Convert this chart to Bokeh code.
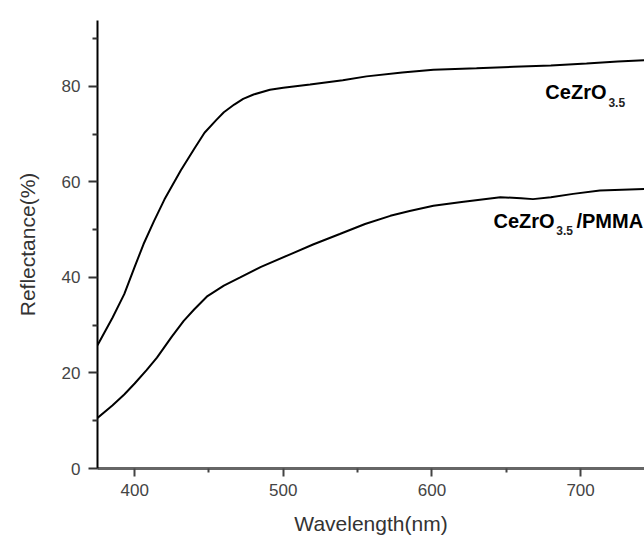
from bokeh.plotting import figure
from bokeh.models import Range1d, FixedTicker
from bokeh.core.properties import value
from bokeh.embed import file_html
from bokeh.resources import INLINE

# Data
wl_ceo = [375, 385, 393, 400, 406, 413, 420, 431, 440, 447, 455, 460, 467, 473,
          480, 491, 500, 518, 540, 556, 580, 601, 630, 655, 680, 704, 725, 743]
refl_ceo = [25.8, 31.5, 36.5, 42.2, 47.0, 51.8, 56.3, 62.4, 66.9, 70.3, 73.0, 74.6,
            76.2, 77.4, 78.3, 79.3, 79.7, 80.4, 81.3, 82.1, 82.9, 83.5, 83.8, 84.1,
            84.4, 84.8, 85.2, 85.5]

wl_pmma = [375, 385, 393, 400, 408, 415, 425, 433, 440, 449, 460, 471, 485, 505,
           520, 538, 555, 572, 585, 601, 620, 646, 660, 668, 680, 695, 713, 743]
refl_pmma = [10.6, 13.2, 15.5, 17.8, 20.6, 23.2, 27.6, 30.9, 33.3, 36.1, 38.3, 40.0,
             42.2, 44.9, 46.9, 49.1, 51.2, 52.9, 53.9, 55.0, 55.8, 56.8, 56.6, 56.4,
             56.8, 57.5, 58.2, 58.5]

x_ticks = [400, 500, 600, 700]
y_ticks = [0, 20, 40, 60, 80]
x_minor = [450, 550, 650]
y_minor = [10, 30, 50, 70, 90]

FONT = "Liberation Sans"

p = figure(width=644, height=539, output_backend="svg", toolbar_location=None,
           x_range=Range1d(375, 743), y_range=Range1d(0, 93.8),
           min_border_left=97, min_border_right=0, min_border_top=20,
           min_border_bottom=71)
p.outline_line_color = None
p.grid.visible = False
p.background_fill_color = "white"
p.border_fill_color = "white"

p.line(wl_ceo, refl_ceo, line_color="black", line_width=2)
p.line(wl_pmma, refl_pmma, line_color="black", line_width=2)

# x axis
xa = p.xaxis[0]
xa.ticker = FixedTicker(ticks=x_ticks, minor_ticks=x_minor)
xa.axis_label = "Wavelength(nm)"
xa.axis_label_text_font = FONT
xa.axis_label_text_font_size = "21px"
xa.axis_label_text_font_style = "normal"
xa.axis_label_text_color = "#333333"
xa.axis_label_standoff = 13
xa.major_label_text_font = FONT
xa.major_label_text_font_size = "17px"
xa.major_label_text_color = "#444444"
xa.major_label_standoff = 7
xa.axis_line_color = "#666666"
xa.axis_line_width = 3
xa.major_tick_line_color = "#444444"
xa.major_tick_line_width = 2
xa.major_tick_out = 8
xa.major_tick_in = 0
xa.minor_tick_line_color = "#444444"
xa.minor_tick_line_width = 2
xa.minor_tick_out = 4
xa.minor_tick_in = 0

# y axis
ya = p.yaxis[0]
ya.ticker = FixedTicker(ticks=y_ticks, minor_ticks=y_minor)
ya.axis_label = "Reflectance(%)"
ya.axis_label_text_font = FONT
ya.axis_label_text_font_size = "21px"
ya.axis_label_text_font_style = "normal"
ya.axis_label_text_color = "#333333"
ya.axis_label_standoff = 20
ya.major_label_text_font = FONT
ya.major_label_text_font_size = "17px"
ya.major_label_text_color = "#444444"
ya.major_label_standoff = 8
ya.axis_line_color = "black"
ya.axis_line_width = 2
ya.major_tick_line_color = "#333333"
ya.major_tick_line_width = 2
ya.major_tick_out = 9
ya.major_tick_in = 0
ya.minor_tick_line_color = "#333333"
ya.minor_tick_line_width = 2
ya.minor_tick_out = 5
ya.minor_tick_in = 0

# annotations
lab_main = dict(text_font=value(FONT), text_font_style="bold", text_font_size="20px",
                text_color="black", text_baseline="alphabetic", text_align="left")
lab_sub = dict(text_font=value(FONT), text_font_style="bold", text_font_size="12px",
               text_color="#222222", text_baseline="alphabetic", text_align="left")

p.text(x=[676.3], y=[78.8], text=["CeZrO"], **lab_main)
p.text(x=[718.7], y=[76.6], text=["3.5"], **lab_sub)

p.text(x=[641.4], y=[51.9], text=["CeZrO"], **lab_main)
p.text(x=[683.7], y=[49.8], text=["3.5"], **lab_sub)
p.text(x=[697.2], y=[51.9], text=["/PMMA"], **lab_main)

open("out.html", "w").write(file_html(p, INLINE))
